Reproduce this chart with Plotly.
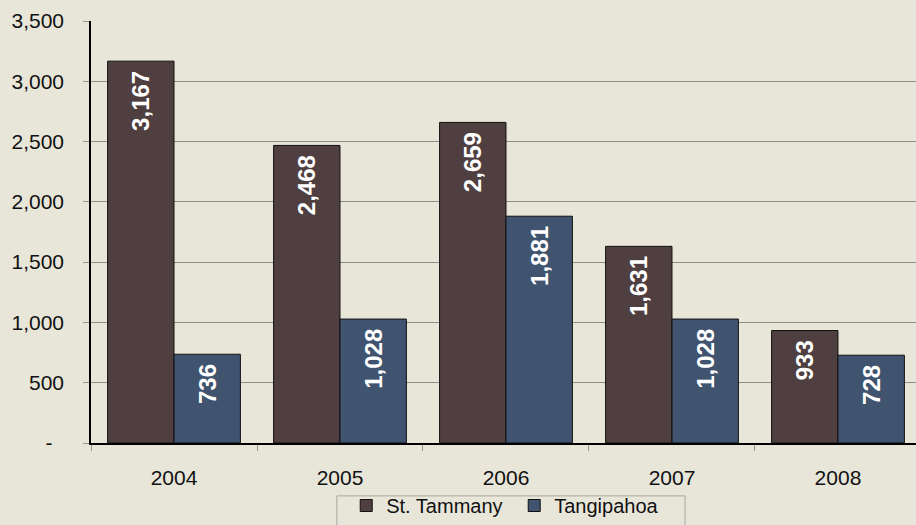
import plotly.graph_objects as go

years = ["2004", "2005", "2006", "2007", "2008"]
st_tammany = [3167, 2468, 2659, 1631, 933]
tangipahoa = [736, 1028, 1881, 1028, 728]
tick_vals = [0, 500, 1000, 1500, 2000, 2500, 3000, 3500]
tick_text = ["-\u00a0\u00a0", "500", "1,000", "1,500", "2,000", "2,500", "3,000", "3,500"]

bg = "#E8E6D9"
font = "Liberation Sans, Arial, sans-serif"
label_font = dict(color="white", size=24, family=font, weight="bold")

fig = go.Figure()
fig.add_trace(go.Bar(
    x=years, y=st_tammany, name="St. Tammany",
    marker=dict(color="#4F3F40", line=dict(color="#111111", width=1)),
    texttemplate="%{y:,}\u00a0", textposition="inside", insidetextanchor="end",
    textangle=-90, textfont=label_font, constraintext="none",
))
fig.add_trace(go.Bar(
    x=years, y=tangipahoa, name="Tangipahoa",
    marker=dict(color="#40546F", line=dict(color="#111111", width=1)),
    texttemplate="%{y:,}\u00a0", textposition="inside", insidetextanchor="end",
    textangle=-90, textfont=label_font, constraintext="none",
))

fig.update_layout(
    width=916, height=525,
    margin=dict(l=91, r=0, t=21, b=81),
    paper_bgcolor=bg, plot_bgcolor=bg,
    barmode="group", bargap=0.2, bargroupgap=0,
    font=dict(family=font, size=21, color="#111111"),
    showlegend=True,
    legend=dict(
        orientation="h", x=0.513, xanchor="center", y=-0.1935, yanchor="bottom",
        bgcolor="rgba(0,0,0,0)", borderwidth=0,
        font=dict(size=20, family=font, color="#111111"),
        itemwidth=30, tracegroupgap=0, entrywidth=123,
    ),
    shapes=[dict(
        type="rect", xref="paper", yref="paper",
        x0=0.298, x1=0.72, y0=-0.2, y1=-0.1253,
        line=dict(color="#A8A8A0", width=1), fillcolor="rgba(0,0,0,0)", layer="below",
    )],
    uniformtext=dict(mode=False),
)
fig.update_xaxes(
    range=[-0.5, 4.47], showline=True, linecolor="#000000", linewidth=1.5,
    ticks="outside", tickson="boundaries", ticklen=6, tickcolor="#999990",
    showgrid=False, tickfont=dict(size=21), ticklabelstandoff=15,
)
fig.update_yaxes(
    range=[0, 3500], tickvals=tick_vals, ticktext=tick_text,
    showgrid=True, gridcolor="#8E8E84", gridwidth=1,
    showline=True, linecolor="#000000", linewidth=1.5,
    ticks="outside", ticklen=6, tickcolor="#999990",
    zeroline=False, tickfont=dict(size=21), ticklabelstandoff=15,
)

fig.write_html(
    "out.html",
    config={"displayModeBar": False},
    post_script="document.body.style.margin='0';document.body.style.background='" + bg + "';",
)
